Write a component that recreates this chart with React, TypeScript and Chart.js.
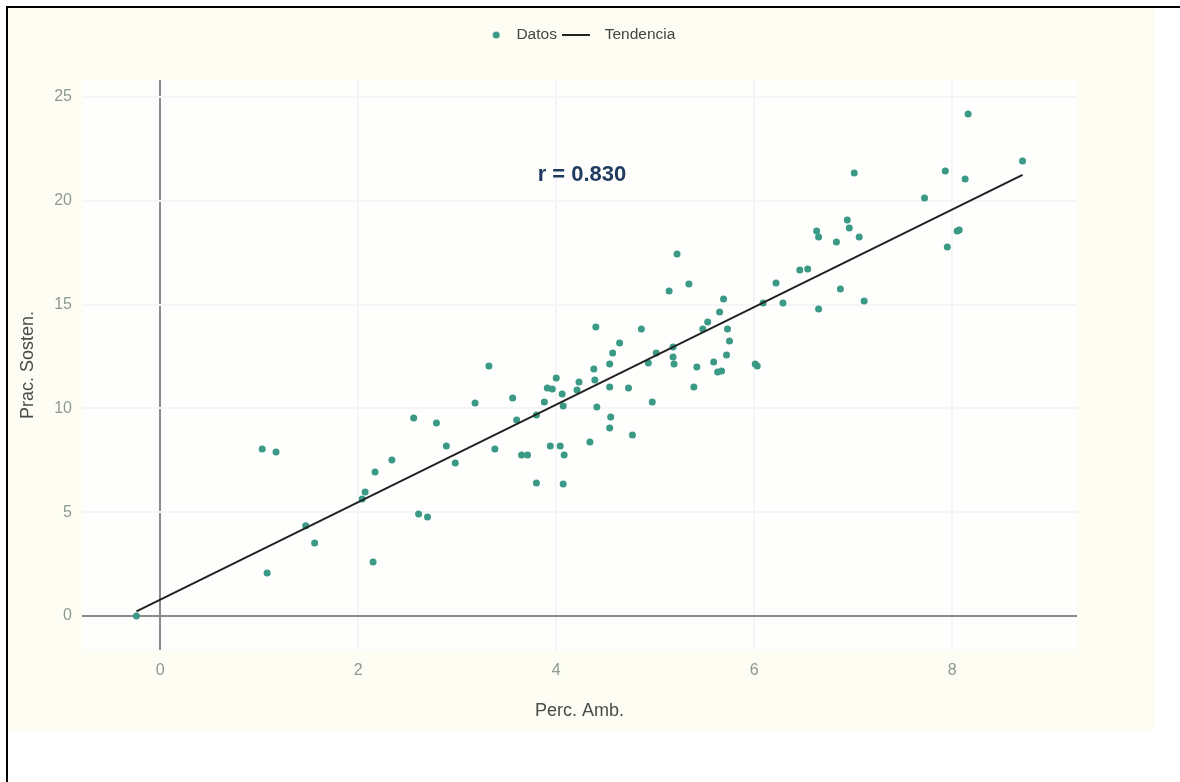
import React, { useEffect, useRef } from "react";
import { Chart, registerables } from "chart.js";

Chart.register(...registerables);

const seriesLabels = ["Datos", "Tendencia"];

const datosX = [
  -0.24, 1.03, 1.17, 1.08, 1.47, 1.56, 2.04, 2.07, 2.15, 2.17,
  2.34, 2.56, 2.61, 2.7, 2.79, 2.89, 2.98, 3.18, 3.32, 3.38,
  3.56, 3.6, 3.65, 3.71, 3.8, 3.8, 3.88, 3.91, 3.96, 3.94,
  4.0, 4.04, 4.06, 4.07, 4.08, 4.07, 4.21, 4.23, 4.34, 4.38,
  4.39, 4.4, 4.41, 4.54, 4.54, 4.55, 4.54, 4.57, 4.64, 4.73,
  4.77, 4.86, 4.93, 4.97, 5.01, 5.14, 5.18, 5.18, 5.19, 5.22,
  5.34, 5.39, 5.42, 5.48, 5.53, 5.59, 5.63, 5.67, 5.65, 5.69,
  5.72, 5.73, 5.75, 6.01, 6.03, 6.09, 6.22, 6.29, 6.46, 6.54,
  6.63, 6.65, 6.65, 6.83, 6.87, 6.94, 6.96, 7.01, 7.06, 7.11,
  7.72, 7.93, 7.95, 8.05, 8.07, 8.13, 8.16, 8.71,
];

const datosY = [
  0.0, 8.04, 7.9, 2.07, 4.34, 3.52, 5.64, 5.97, 2.6, 6.94,
  7.51, 9.54, 4.91, 4.77, 9.3, 8.19, 7.37, 10.26, 12.04, 8.04,
  10.5, 9.44, 7.76, 7.76, 9.68, 6.41, 10.31, 10.98, 10.93, 8.19,
  11.46, 8.19, 10.69, 10.12, 7.76, 6.36, 10.89, 11.27, 8.38, 11.9,
  11.37, 13.92, 10.07, 12.14, 11.03, 9.59, 9.06, 12.67, 13.15, 10.98,
  8.72, 13.82, 12.19, 10.31, 12.67, 15.66, 12.96, 12.48, 12.14, 17.44,
  15.99, 11.03, 11.99, 13.82, 14.16, 12.24, 11.75, 11.8, 14.64, 15.27,
  12.57, 13.82, 13.25, 12.14, 12.04, 15.08, 16.04, 15.08, 16.67, 16.71,
  18.55, 18.26, 14.79, 18.02, 15.75, 19.08, 18.69, 21.34, 18.26, 15.17,
  20.13, 21.44, 17.77, 18.55, 18.59, 21.05, 24.18, 21.92,
];

const trendX = [-0.24, 8.71];
const trendY = [0.22, 21.25];

const xTicks = [0, 2, 4, 6, 8];
const yTicks = [0, 5, 10, 15, 20, 25];
const xRange = [-0.79, 9.26];
const yRange = [-1.64, 25.82];

const xTitle = "Perc. Amb.";
const yTitle = "Prac. Sosten.";
const annotationText = "r = 0.830";
const annotationAt = [4.26, 21.24];

const FONT = '"Liberation Sans", Arial, Helvetica, sans-serif';
const DOT = "#3a9a86";
const LINE = "#222222";
const TICK = "#8d9a90";
const GRID = "#f4f5f8";
const ZERO = "#8a8a8a";

export default function App() {
  const ref = useRef<HTMLCanvasElement>(null);

  useEffect(() => {
    const canvas = ref.current;
    if (!canvas) return;

    const dotImg = document.createElement("canvas");
    dotImg.width = 21;
    dotImg.height = 8;
    const dctx = dotImg.getContext("2d")!;
    dctx.fillStyle = DOT;
    dctx.beginPath();
    dctx.arc(16.5, 4, 3.5, 0, Math.PI * 2);
    dctx.fill();

    const lineImg = document.createElement("canvas");
    lineImg.width = 33;
    lineImg.height = 2;
    const lctx = lineImg.getContext("2d")!;
    lctx.fillStyle = LINE;
    lctx.fillRect(0, 0, 28, 2);

    const legendImgs = [dotImg, lineImg];

    const plotBg = {
      id: "plotBg",
      beforeDraw(chart: any) {
        const { ctx, chartArea } = chart;
        ctx.save();
        ctx.fillStyle = "#fefefc";
        ctx.fillRect(chartArea.left, chartArea.top, chartArea.right - chartArea.left, chartArea.bottom - chartArea.top);
        ctx.restore();
      },
    };

    const legendTweak = {
      id: "legendTweak",
      beforeUpdate(chart: any) {
        const lg = chart.legend;
        if (lg && !lg._patchedFit) {
          const orig = lg.fit;
          lg.fit = function () {
            orig.call(this);
            this.height += 27.25;
          };
          lg._patchedFit = true;
        }
      },
      afterLayout(chart: any) {
        const lg = chart.legend;
        if (lg) {
          lg.left += 31;
          lg.right += 31;
        }
      },
    };

    const annotation = {
      id: "annotation",
      afterDatasetsDraw(chart: any) {
        const { ctx, scales } = chart;
        ctx.save();
        ctx.font = `bold 22px ${FONT}`;
        ctx.fillStyle = "#1f3a5f";
        ctx.textAlign = "center";
        ctx.textBaseline = "middle";
        ctx.fillText(
          annotationText,
          scales.x.getPixelForValue(annotationAt[0]),
          scales.y.getPixelForValue(annotationAt[1])
        );
        ctx.restore();
      },
    };

    const gridColor = (c: any) => (c.tick && c.tick.value === 0 ? ZERO : GRID);
    const gridWidth = (c: any) => (c.tick && c.tick.value === 0 ? 2 : 2);

    const chart = new Chart(canvas, {
      type: "scatter",
      data: {
        datasets: [
          {
            label: seriesLabels[0],
            data: datosX.map((x, i) => ({ x, y: datosY[i] })),
            backgroundColor: DOT,
            borderWidth: 0,
            pointRadius: 3.5,
            pointHoverRadius: 3.5,
            order: 1,
          },
          {
            label: seriesLabels[1],
            data: trendX.map((x, i) => ({ x, y: trendY[i] })),
            showLine: true,
            borderColor: LINE,
            backgroundColor: LINE,
            borderWidth: 2,
            pointRadius: 0,
            pointHoverRadius: 0,
            order: 0,
          } as any,
        ],
      },
      options: {
        responsive: false,
        animation: false,
        devicePixelRatio: 1,
        events: [],
        layout: { padding: { left: 0, right: 77, top: 16.25, bottom: 0 } },
        plugins: {
          tooltip: { enabled: false },
          legend: {
            display: true,
            position: "top",
            align: "center",
            labels: {
              usePointStyle: true,
              pointStyleWidth: 37,
              padding: 3,
              color: "#444444",
              font: { family: FONT, size: 15.5 },
              sort: (a: any, b: any) => a.datasetIndex - b.datasetIndex,
              generateLabels: (ch: any) => {
                const items = (Chart.defaults.plugins.legend.labels as any).generateLabels(ch);
                return items.map((it: any) => ({ ...it, pointStyle: legendImgs[it.datasetIndex] }));
              },
            },
          },
        },
        scales: {
          x: {
            type: "linear",
            min: xRange[0],
            max: xRange[1],
            afterBuildTicks: (s: any) => {
              s.ticks = xTicks.map((v) => ({ value: v }));
            },
            afterFit: (s: any) => {
              s.height = 82;
            },
            border: { display: false },
            grid: { color: gridColor, lineWidth: gridWidth, drawTicks: false },
            ticks: { padding: 11, color: TICK, font: { family: FONT, size: 16 } },
            title: {
              display: true,
              text: xTitle,
              color: "#4a4a4a",
              font: { family: FONT, size: 18 },
              padding: { top: 0, bottom: 10 },
            },
          },
          y: {
            type: "linear",
            min: yRange[0],
            max: yRange[1],
            afterBuildTicks: (s: any) => {
              s.ticks = yTicks.map((v) => ({ value: v }));
            },
            afterFit: (s: any) => {
              s.width = 74;
            },
            border: { display: false },
            grid: { color: gridColor, lineWidth: gridWidth, drawTicks: false },
            ticks: { padding: 10, color: TICK, font: { family: FONT, size: 16 } },
            title: {
              display: true,
              text: yTitle,
              color: "#4a4a4a",
              font: { family: FONT, size: 18 },
              padding: { top: 9, bottom: 0 },
            },
          },
        },
      } as any,
      plugins: [plotBg, legendTweak, annotation],
    });

    return () => chart.destroy();
  }, []);

  return (
    <div
      style={{
        position: "fixed",
        left: 6,
        top: 6,
        width: 1200,
        height: 800,
        border: "2px solid #000",
        background: "#ffffff",
      }}
    >
      <div style={{ position: "absolute", left: 0, top: 0, width: 1146, height: 724, background: "#fdfdf3" }}>
        <canvas ref={ref} width={1146} height={724} style={{ display: "block", width: 1146, height: 724 }} />
      </div>
    </div>
  );
}
